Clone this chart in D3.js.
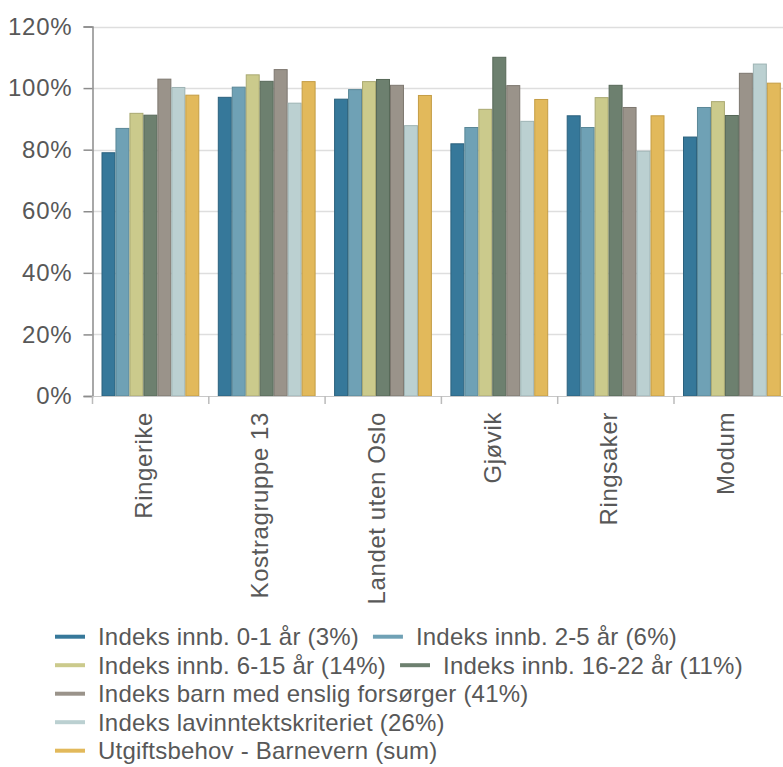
<!DOCTYPE html>
<html>
<head>
<meta charset="utf-8">
<script src="https://cdn.jsdelivr.net/npm/d3@7"></script>
<style>
  body { margin: 0; background: #fff; }
  svg { display: block; font-family: "Liberation Sans", Arial, sans-serif; }
</style>
</head>
<body>
<div id="chart"></div>
<script>
var categories = ["Ringerike", "Kostragruppe 13", "Landet uten Oslo", "Gjøvik", "Ringsaker", "Modum"];

var seriesNames = [
  "Indeks innb. 0-1 år (3%)",
  "Indeks innb. 2-5 år (6%)",
  "Indeks innb. 6-15 år (14%)",
  "Indeks innb. 16-22 år (11%)",
  "Indeks barn med enslig forsørger (41%)",
  "Indeks lavinntektskriteriet (26%)",
  "Utgiftsbehov - Barnevern (sum)"
];

// values in %, one array per series, same order as categories
var innb01 = [79.0, 97.0, 96.4, 81.9, 91.0, 84.1];
var innb25 = [86.9, 100.3, 99.5, 87.2, 87.2, 93.7];
var innb615 = [91.8, 104.3, 102.1, 93.1, 96.9, 95.6];
var innb1622 = [91.2, 102.2, 102.8, 110.0, 100.9, 91.1];
var enslig = [102.9, 106.0, 100.9, 100.8, 93.7, 104.8];
var lavinntekt = [100.2, 95.1, 87.8, 89.2, 79.5, 107.8];
var utgiftsbehov = [97.7, 102.1, 97.6, 96.3, 91.0, 101.6];

var yTicks = [0, 20, 40, 60, 80, 100, 120];

var seriesValues = [innb01, innb25, innb615, innb1622, enslig, lavinntekt, utgiftsbehov];

var fills = ["#36789a", "#6fa1b5", "#cbca8c", "#6d806f", "#9a938a", "#bbd0d1", "#e2b95b"];
var strokes = ["#2b617d", "#5a8797", "#aaa972", "#576858", "#7d776f", "#9db3b4", "#c49d45"];

var W = 783, H = 767;
var plotLeft = 92.5, plotBottom = 396, plotTop = 26.5;
var bandW = 116.3;

var svg = d3.select("#chart")
  .append("svg")
  .attr("width", W)
  .attr("height", H);

var x = d3.scaleBand()
  .domain(categories)
  .range([plotLeft, plotLeft + bandW * categories.length])
  .padding(0);

var x1 = d3.scaleBand()
  .domain(d3.range(seriesNames.length))
  .range([9, x.bandwidth() - 9.5])
  .padding(0);

var y = d3.scaleLinear()
  .domain([0, 120])
  .range([plotBottom, plotTop]);

var textColor = "#585858";

// grid lines
svg.append("g")
  .selectAll("line")
  .data(yTicks.filter(function (d) { return d > 0; }))
  .enter().append("line")
  .attr("x1", plotLeft)
  .attr("x2", W)
  .attr("y1", function (d) { return Math.round(y(d)) + 0.5; })
  .attr("y2", function (d) { return Math.round(y(d)) + 0.5; })
  .style("stroke", "#dedede")
  .style("stroke-width", 1.5);

// bars
var groups = svg.append("g")
  .selectAll("g")
  .data(categories)
  .enter().append("g")
  .attr("transform", function (d) { return "translate(" + x(d) + ",0)"; });

groups.selectAll("rect")
  .data(function (d, ci) {
    return seriesValues.map(function (vals, si) { return { s: si, v: vals[ci] }; });
  })
  .enter().append("rect")
  .attr("x", function (d) { return x1(d.s) + 0.5; })
  .attr("width", x1.bandwidth() - 1)
  .attr("y", function (d) { return y(d.v); })
  .attr("height", function (d) { return plotBottom - y(d.v); })
  .style("fill", function (d) { return fills[d.s]; })
  .style("stroke", function (d) { return strokes[d.s]; })
  .style("stroke-width", 1);

// y axis
var yAxis = svg.append("g")
  .attr("transform", "translate(" + plotLeft + ",0)")
  .call(d3.axisLeft(y).tickValues(yTicks).tickSize(9).tickPadding(11)
    .tickFormat(function (d) { return d + "%"; }));

yAxis.select(".domain").style("stroke", "#8c8c8c").style("stroke-width", 1.5);
yAxis.selectAll(".tick line").style("stroke", "#8c8c8c").style("stroke-width", 1.5);
yAxis.selectAll(".tick text")
  .style("font-size", "24px")
  .style("font-family", "'Liberation Sans', Arial, sans-serif")
  .style("letter-spacing", "0.8px")
  .style("fill", textColor);

// x axis line and ticks between categories
svg.append("line")
  .attr("x1", plotLeft)
  .attr("x2", W)
  .attr("y1", plotBottom + 0.5)
  .attr("y2", plotBottom + 0.5)
  .style("stroke", "#c8c8c8")
  .style("stroke-width", 1);

svg.append("g")
  .selectAll("line")
  .data(categories)
  .enter().append("line")
  .attr("x1", function (d) { return x(d); })
  .attr("x2", function (d) { return x(d); })
  .attr("y1", plotBottom)
  .attr("y2", plotBottom + 8)
  .style("stroke", "#bbbbbb")
  .style("stroke-width", 1.5);

// category labels, rotated
svg.append("g")
  .selectAll("text")
  .data(categories)
  .enter().append("text")
  .attr("transform", function (d) {
    return "translate(" + (x(d) + x.bandwidth() / 2 + 1.5) + "," + 412 + ") rotate(-90)";
  })
  .style("text-anchor", "end")
  .style("font-size", "24px")
  .style("letter-spacing", "0.6px")
  .style("fill", textColor)
  .text(function (d) { return d; });

// legend, flowing rows
var legend = svg.append("g");
var legX0 = 55, legMaxX = 770, rowH = 28.5, firstBase = 645;
var cx = legX0, row = 0;

seriesNames.forEach(function (name, i) {
  var item = legend.append("g");
  item.append("line")
    .attr("x1", 0)
    .attr("x2", 30)
    .attr("y1", -8.3)
    .attr("y2", -8.3)
    .style("stroke", fills[i])
    .style("stroke-width", 4);
  var t = item.append("text")
    .attr("x", 43)
    .attr("y", 0)
    .style("font-size", "24px")
    .style("letter-spacing", "0.2px")
    .style("fill", textColor)
    .text(name);
  var w = 43 + t.node().getComputedTextLength();
  if (cx > legX0 && cx + w > legMaxX) {
    cx = legX0;
    row++;
  }
  item.attr("transform", "translate(" + cx + "," + (firstBase + row * rowH) + ")");
  cx += w + 14;
});
</script>
</body>
</html>
